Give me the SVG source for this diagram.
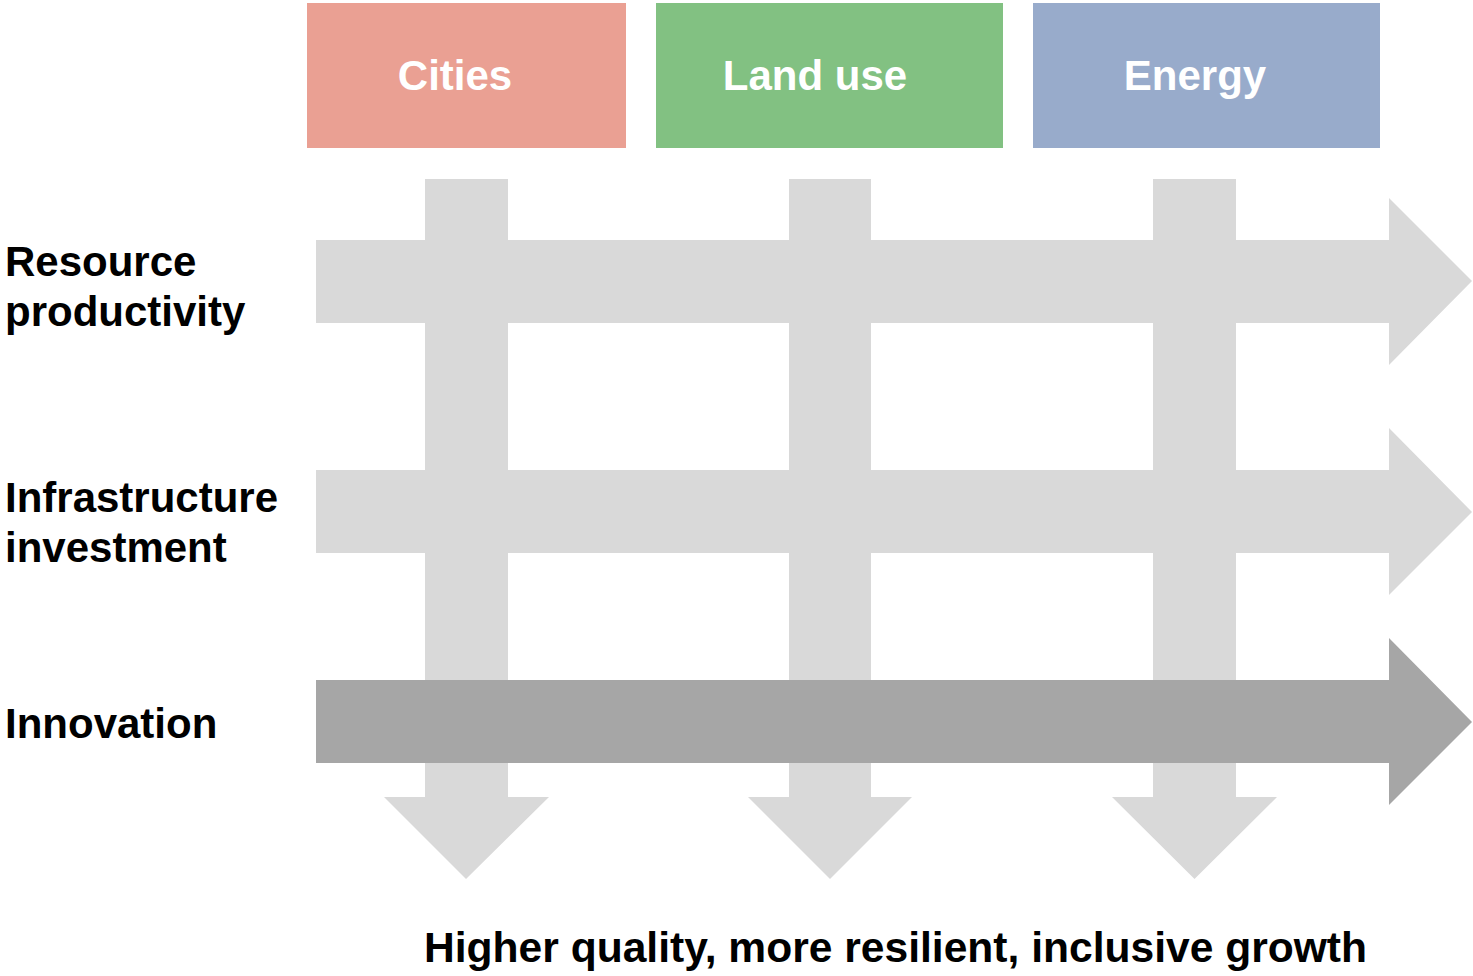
<svg xmlns="http://www.w3.org/2000/svg" width="1473" height="976" viewBox="0 0 1473 976">
<style>
.lbl{font-family:"Liberation Sans",Arial,sans-serif;font-weight:bold;font-size:42px;fill:#000}
.hd{font-family:"Liberation Sans",Arial,sans-serif;font-weight:bold;font-size:42px;fill:#fff;text-anchor:middle}
.lt{fill:#D9D9D9}
.dk{fill:#A6A6A6}
</style>
<rect width="1473" height="976" fill="#fff"/>
<g id="connectors">
  <polygon class="lt" points="316,240 1389,240 1389,198 1472,281 1389,365 1389,323 316,323"/>
  <polygon class="lt" points="316,470 1389,470 1389,428 1472,512 1389,595 1389,553 316,553"/>
  <polygon class="lt" points="425,179 508,179 508,797 549,797 466,879 384,797 425,797"/>
  <polygon class="lt" points="789,179 871,179 871,797 912,797 830,879 748,797 789,797"/>
  <polygon class="lt" points="1153,179 1236,179 1236,797 1277,797 1194.5,879 1112,797 1153,797"/>
  <polygon class="dk" points="316,680 1389,680 1389,638 1472,722 1389,805 1389,763 316,763"/>
</g>
<g id="cities">
  <rect x="307" y="3" width="319" height="145" fill="#EAA093"/>
  <text class="hd" x="455" y="90">Cities</text>
</g>
<g id="landuse">
  <rect x="656" y="3" width="347" height="145" fill="#82C182"/>
  <text class="hd" x="815" y="90">Land use</text>
</g>
<g id="energy">
  <rect x="1033" y="3" width="347" height="145" fill="#98ABCB"/>
  <text class="hd" x="1195" y="90">Energy</text>
</g>
<g id="resource">
  <text class="lbl" x="5" y="276">Resource</text>
  <text class="lbl" x="5" y="326">productivity</text>
</g>
<g id="infrastructure">
  <text class="lbl" x="5" y="512">Infrastructure</text>
  <text class="lbl" x="5" y="562">investment</text>
</g>
<g id="innovation">
  <text class="lbl" x="5" y="738">Innovation</text>
</g>
<g id="outcome">
  <text class="lbl" x="424" y="962" textLength="943" lengthAdjust="spacingAndGlyphs">Higher quality, more resilient, inclusive growth</text>
</g>
</svg>
